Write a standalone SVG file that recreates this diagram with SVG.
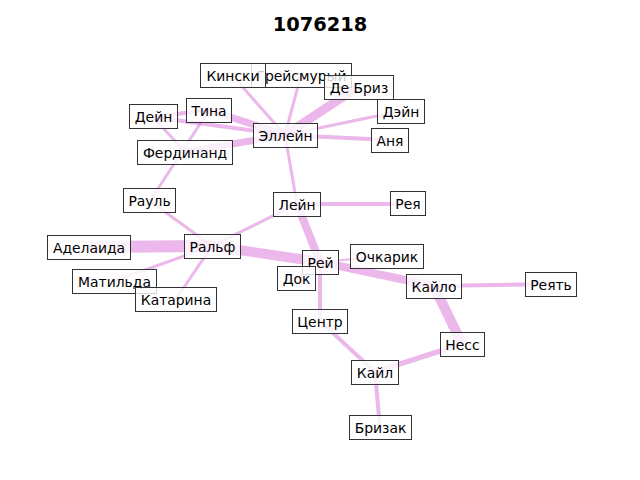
<svg xmlns="http://www.w3.org/2000/svg" width="640" height="480" viewBox="0 0 640 480">
<style>
.e{stroke:#da70d6;stroke-opacity:0.5;stroke-linecap:butt;fill:none}
.n rect{fill:#fff;fill-opacity:0.8;stroke:#333;stroke-width:1}
.n text{font-family:"DejaVu Sans",sans-serif;font-size:13.9px;fill:#000;text-anchor:middle;dominant-baseline:central}
.t{font-family:"DejaVu Sans",sans-serif;font-size:19.4px;font-weight:bold;text-anchor:middle}
</style>
<rect width="640" height="480" fill="#fff"/>
<text class="t" x="320" y="31">1076218</text>
<g id="edges">
<line class="e" x1="285" y1="135" x2="358" y2="87" stroke-width="9"/>
<line class="e" x1="285" y1="135" x2="209" y2="110" stroke-width="7"/>
<line class="e" x1="285" y1="135" x2="185" y2="152" stroke-width="7"/>
<line class="e" x1="285" y1="135" x2="153" y2="117" stroke-width="4"/>
<line class="e" x1="285" y1="135" x2="232" y2="75" stroke-width="3"/>
<line class="e" x1="285" y1="135" x2="301" y2="75" stroke-width="3"/>
<line class="e" x1="285" y1="135" x2="401" y2="111" stroke-width="3"/>
<line class="e" x1="285" y1="135" x2="390" y2="140" stroke-width="4"/>
<line class="e" x1="285" y1="135" x2="297" y2="204" stroke-width="3"/>
<line class="e" x1="153" y1="117" x2="209" y2="110" stroke-width="4"/>
<line class="e" x1="153" y1="117" x2="185" y2="152" stroke-width="3"/>
<line class="e" x1="209" y1="110" x2="150" y2="201" stroke-width="3"/>
<line class="e" x1="150" y1="201" x2="212" y2="246" stroke-width="3"/>
<line class="e" x1="212" y1="246" x2="297" y2="204" stroke-width="3"/>
<line class="e" x1="212" y1="246" x2="89" y2="247" stroke-width="12"/>
<line class="e" x1="212" y1="246" x2="320" y2="262" stroke-width="10"/>
<line class="e" x1="212" y1="246" x2="114" y2="281" stroke-width="3"/>
<line class="e" x1="212" y1="246" x2="176" y2="299" stroke-width="3"/>
<line class="e" x1="297" y1="204" x2="320" y2="262" stroke-width="8"/>
<line class="e" x1="297" y1="204" x2="408" y2="204" stroke-width="4"/>
<line class="e" x1="320" y1="262" x2="387" y2="256" stroke-width="2"/>
<line class="e" x1="320" y1="262" x2="434" y2="286" stroke-width="8"/>
<line class="e" x1="320" y1="262" x2="320" y2="321" stroke-width="4"/>
<line class="e" x1="320" y1="262" x2="296" y2="278" stroke-width="2"/>
<line class="e" x1="434" y1="286" x2="551" y2="284" stroke-width="4"/>
<line class="e" x1="434" y1="286" x2="462" y2="344" stroke-width="10"/>
<line class="e" x1="462" y1="344" x2="375" y2="372" stroke-width="5"/>
<line class="e" x1="320" y1="321" x2="375" y2="372" stroke-width="4"/>
<line class="e" x1="375" y1="372" x2="380" y2="428" stroke-width="4"/>
</g>
<g id="n-greysmury" class="n"><rect x="251.5" y="63.5" width="100" height="24"/><text x="301.5" y="75.5">Грейсмурый</text></g>
<g id="n-kinski" class="n"><rect x="200.5" y="63.5" width="65" height="24"/><text x="233" y="75.5">Кински</text></g>
<g id="n-debriz" class="n"><rect x="324.5" y="75.5" width="69" height="24"/><text x="359" y="87.5">Де Бриз</text></g>
<g id="n-tina" class="n"><rect x="186.5" y="98.5" width="45" height="24"/><text x="209" y="110.5">Тина</text></g>
<g id="n-dein" class="n"><rect x="129.5" y="104.5" width="48" height="24"/><text x="153.5" y="116.5">Дейн</text></g>
<g id="n-dein2" class="n"><rect x="377.5" y="99.5" width="47" height="24"/><text x="401" y="111.5">Дэйн</text></g>
<g id="n-ellein" class="n"><rect x="253.5" y="123.5" width="64" height="24"/><text x="285.5" y="135.5">Эллейн</text></g>
<g id="n-anya" class="n"><rect x="371.5" y="128.5" width="37" height="24"/><text x="390" y="140.5">Аня</text></g>
<g id="n-ferdinand" class="n"><rect x="137.5" y="140.5" width="95" height="24"/><text x="185" y="152.5">Фердинанд</text></g>
<g id="n-raul" class="n"><rect x="123.5" y="188.5" width="52" height="24"/><text x="149.5" y="200.5">Рауль</text></g>
<g id="n-lein" class="n"><rect x="273.5" y="192.5" width="47" height="24"/><text x="297" y="204.5">Лейн</text></g>
<g id="n-reya" class="n"><rect x="390.5" y="191.5" width="35" height="24"/><text x="408" y="203.5">Рея</text></g>
<g id="n-adelaida" class="n"><rect x="47.5" y="235.5" width="83" height="24"/><text x="89" y="247.5">Аделаида</text></g>
<g id="n-ralf" class="n"><rect x="184.5" y="234.5" width="56" height="24"/><text x="212.5" y="246.5">Ральф</text></g>
<g id="n-rei" class="n"><rect x="302.5" y="250.5" width="36" height="24"/><text x="320.5" y="262.5">Рей</text></g>
<g id="n-ochkarik" class="n"><rect x="350.5" y="244.5" width="73" height="24"/><text x="387" y="256.5">Очкарик</text></g>
<g id="n-dok" class="n"><rect x="277.5" y="266.5" width="38" height="24"/><text x="296.5" y="278.5">Док</text></g>
<g id="n-matilda" class="n"><rect x="72.5" y="269.5" width="84" height="24"/><text x="114.5" y="281.5">Матильда</text></g>
<g id="n-kailo" class="n"><rect x="406.5" y="274.5" width="55" height="24"/><text x="434" y="286.5">Кайло</text></g>
<g id="n-reyat" class="n"><rect x="525.5" y="272.5" width="51" height="24"/><text x="551" y="284.5">Реять</text></g>
<g id="n-katarina" class="n"><rect x="135.5" y="287.5" width="81" height="24"/><text x="176" y="299.5">Катарина</text></g>
<g id="n-centr" class="n"><rect x="292.5" y="309.5" width="55" height="24"/><text x="320" y="321.5">Центр</text></g>
<g id="n-ness" class="n"><rect x="440.5" y="332.5" width="44" height="24"/><text x="462.5" y="344.5">Несс</text></g>
<g id="n-kail" class="n"><rect x="351.5" y="360.5" width="47" height="24"/><text x="375" y="372.5">Кайл</text></g>
<g id="n-brizak" class="n"><rect x="349.5" y="415.5" width="62" height="24"/><text x="380.5" y="427.5">Бризак</text></g>
</svg>
